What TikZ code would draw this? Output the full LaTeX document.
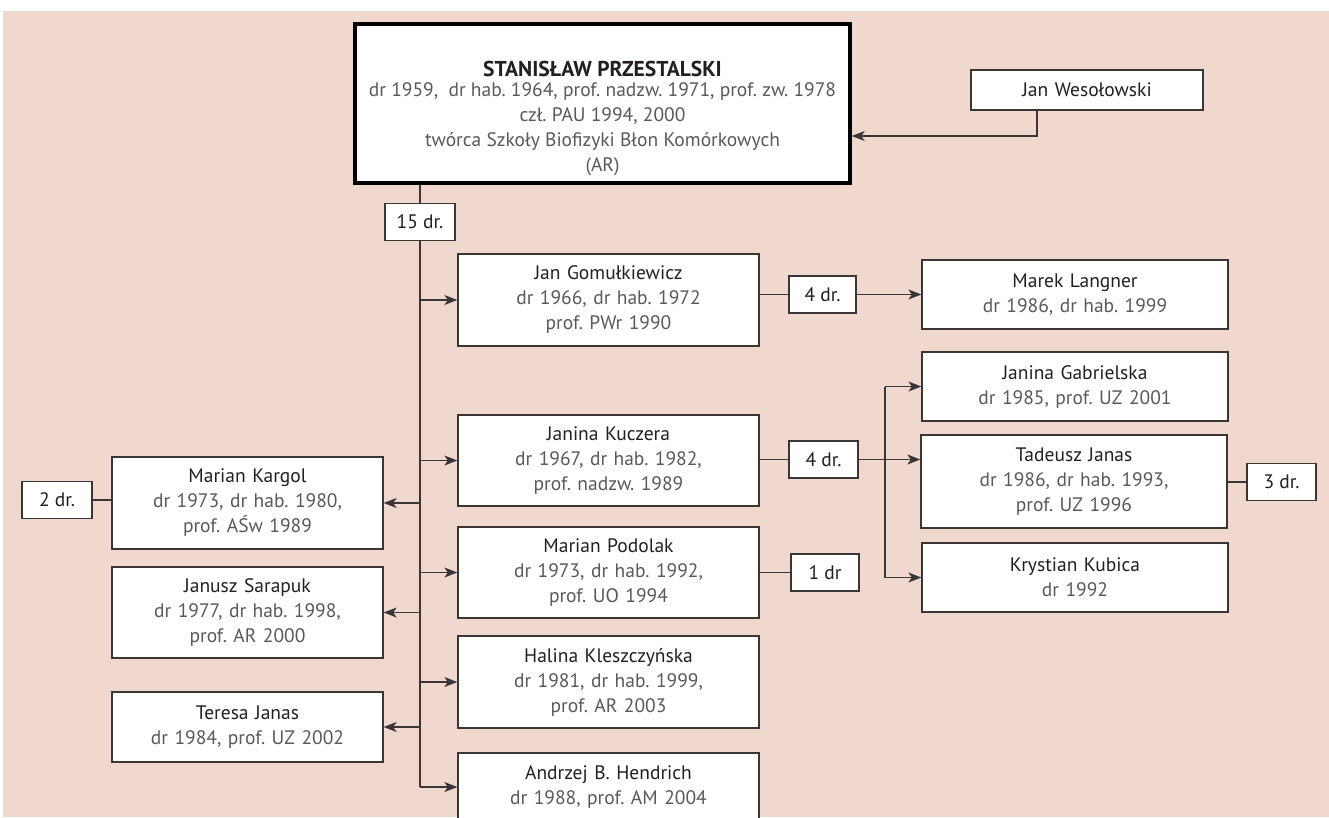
\documentclass[tikz,border=0pt]{standalone}
\usepackage{fontspec}
\setmainfont{PT Sans}
\usetikzlibrary{arrows.meta,calc}
\definecolor{bgpink}{HTML}{F1D8CE}
\definecolor{namec}{HTML}{231F20}
\definecolor{detc}{HTML}{58595B}
\definecolor{edge}{HTML}{3A3638}
\newcommand{\nm}[1]{{\color{namec}#1}}
\newcommand{\dt}[1]{{\color{detc}#1}}
\frenchspacing
\begin{document}
\begin{tikzpicture}[x=1pt,y=-1pt,
  person/.style={draw=edge,line width=1.3pt,fill=white,inner sep=0pt,align=center,
    font=\fontsize{19.5}{25}\selectfont,text width=#1},
  person/.default=290pt,
  count/.style={draw=edge,line width=1.3pt,fill=white,inner sep=0pt,
    font=\fontsize{19.5}{25}\selectfont\color{namec},minimum height=37pt},
  link/.style={draw=edge,line width=1.3pt},
  arr/.style={link,-{Stealth[length=13pt,width=10pt,inset=3.5pt]}}]
\useasboundingbox (0,0) rectangle (1329,817);
\clip (0,0) rectangle (1329,817);
\fill[bgpink] (3,11) rectangle (1329,817);

% founder
\node[draw=black,line width=3.5pt,fill=white,inner sep=0pt,
  minimum width=495pt,minimum height=159pt] (main) at (602.5,103.5) {};
\node[align=center,inner sep=0pt,font=\fontsize{19.5}{25}\selectfont]
  (maintxt) at (602.5,118)
  {{\fontsize{21.5}{20}\selectfont\bfseries\color{namec}STANISŁAW PRZESTALSKI}\\[-5pt]
   \dt{dr 1959,\ \ dr hab. 1964, prof. nadzw. 1971, prof. zw. 1978}\\
   \dt{czł. PAU 1994, 2000}\\
   \dt{twórca Szkoły Biofizyki Błon Komórkowych}\\
   \dt{(AR)}};

\node[person=232pt,minimum height=40pt] (wes) at (1087,90) {\nm{Jan Wesołowski}};

\node[count,minimum width=70pt] (d15) at (420,222) {15 dr.};

% right-hand column
\node[person=301pt,minimum height=92pt] (gom) at (608.5,300)
  {\nm{Jan Gomułkiewicz}\\\dt{dr 1966, dr hab. 1972}\\\dt{prof. PWr 1990}};
\node[person=301pt,minimum height=91pt] (kuc) at (608.5,460.5)
  {\nm{Janina Kuczera}\\\dt{dr 1967, dr hab. 1982,}\\\dt{prof. nadzw. 1989}};
\node[person=301pt,minimum height=91pt] (pod) at (608.5,572.5)
  {\nm{Marian Podolak}\\\dt{dr 1973, dr hab. 1992,}\\\dt{prof. UO 1994}};
\node[person=301pt,minimum height=92pt] (kle) at (608.5,682)
  {\nm{Halina Kleszczyńska}\\\dt{dr 1981, dr hab. 1999,}\\\dt{prof. AR 2003}};
\node[person=301pt,minimum height=68pt] (hen) at (608.5,787)
  {\nm{Andrzej B. Hendrich}\\\dt{dr 1988, prof. AM 2004}};

% left-hand column
\node[person=271pt,minimum height=92pt] (kar) at (247.5,503)
  {\nm{Marian Kargol}\\\dt{dr 1973, dr hab. 1980,}\\\dt{prof. AŚw 1989}};
\node[person=271pt,minimum height=91pt] (sar) at (247.5,612.5)
  {\nm{Janusz Sarapuk}\\\dt{dr 1977, dr hab. 1998,}\\\dt{prof. AR 2000}};
\node[person=271pt,minimum height=70pt] (tej) at (247.5,727)
  {\nm{Teresa Janas}\\\dt{dr 1984, prof. UZ 2002}};
\node[count,minimum width=70pt] (d2) at (57,500) {2 dr.};

% second generation counts
\node[count,minimum width=67pt] (d4a) at (822.5,294.5) {4 dr.};
\node[count,minimum width=69pt] (d4b) at (823.5,459.5) {4 dr.};
\node[count,minimum width=68pt] (d1)  at (825,572.5) {1 dr};

% far right column
\node[person=306pt,minimum height=69pt] (lan) at (1075,294.5)
  {\nm{Marek Langner}\\\dt{dr 1986, dr hab. 1999}};
\node[person=306pt,minimum height=69pt] (gab) at (1075,386.5)
  {\nm{Janina Gabrielska}\\\dt{dr 1985, prof. UZ 2001}};
\node[person=306pt,minimum height=93pt] (tja) at (1074,481.5)
  {\nm{Tadeusz Janas}\\\dt{dr 1986, dr hab. 1993,}\\\dt{prof. UZ 1996}};
\node[person=306pt,minimum height=69pt] (kub) at (1075,577.5)
  {\nm{Krystian Kubica}\\\dt{dr 1992}};
\node[count,minimum width=69pt] (d3) at (1281.5,482) {3 dr.};

% trunk from the founder
\coordinate (trunkend) at (420,787);
\draw[link] (main.south -| d15) -- (d15.north);
\draw[link] (d15.south) -- (trunkend);
\draw[arr] (trunkend) -- (hen.west);
\foreach \b in {gom,kuc,pod,kle} \draw[arr] (\b.west -| d15) -- (\b.west);
\foreach \b in {kar,sar,tej} \draw[arr] (\b.east -| d15) -- (\b.east);

% Jan Wesołowski
\coordinate (wesfoot) at ($(wes.south west)!0.285!(wes.south east)$);
\draw[arr] (wesfoot) |- ($(main.north east)!0.7!(main.south east)$);

% further generations
\draw[link] (d2.east) -- (d2.east -| kar.west);
\draw[link] (d4a.west -| gom.east) -- (d4a.west);
\draw[arr] (d4a.east) -- (lan.west);
\draw[link] (d4b.west -| kuc.east) -- (d4b.west);
\draw[arr] (d4b.east) -- (d4b.east -| tja.west);
\coordinate (br) at (885,0);
\draw[link] (gab.west -| br) -- (kub.west -| br);
\draw[arr] (gab.west -| br) -- (gab.west);
\draw[arr] (kub.west -| br) -- (kub.west);
\draw[link] (d3.west -| tja.east) -- (d3.west);
\draw[link] (d1.west -| pod.east) -- (d1.west);
\end{tikzpicture}
\end{document}
